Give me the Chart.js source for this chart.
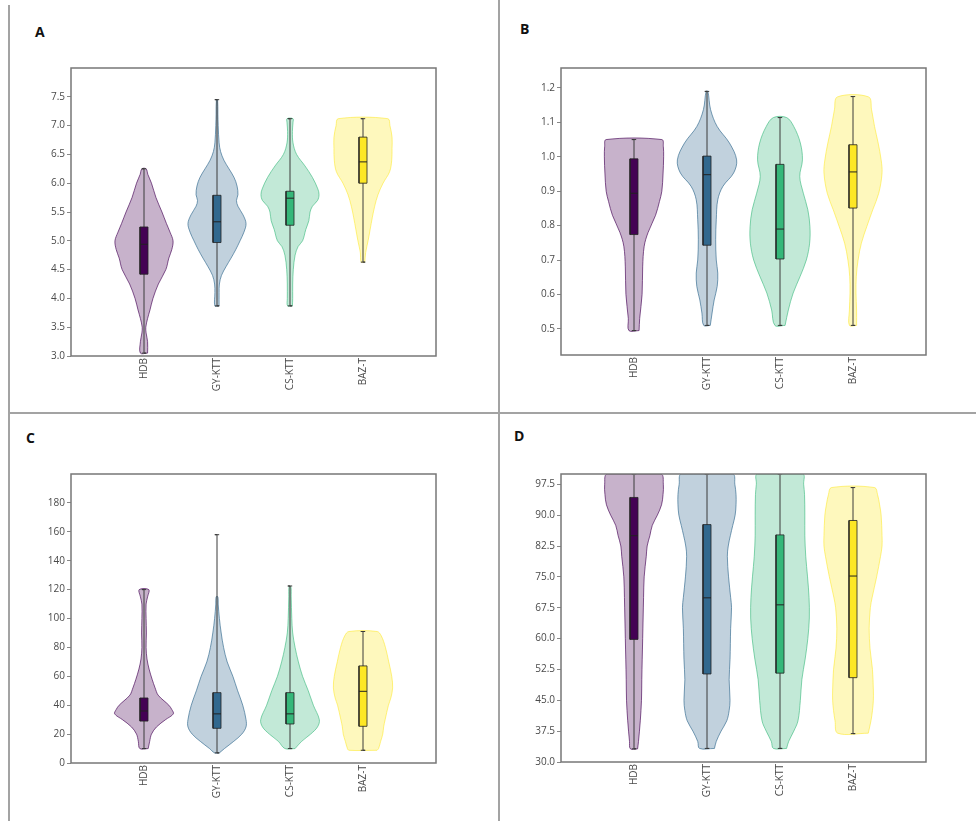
<!DOCTYPE html>
<html><head><meta charset="utf-8">
<script src="https://cdn.jsdelivr.net/npm/chart.js@4.4.1/dist/chart.umd.min.js"></script>
<style>
html,body{margin:0;padding:0;background:#fff;}
body{width:976px;height:821px;position:relative;overflow:hidden;font-family:'Open Sans',sans-serif;}
.cv{position:absolute;}
.line{position:absolute;background:#a3a3a3;}
.lab{position:absolute;font:bold 14px 'Open Sans',sans-serif;color:#111;line-height:18px;}
</style></head><body>
<div class="line" style="left:8px;top:5px;width:2px;height:816px"></div>
<div class="line" style="left:498px;top:0;width:2px;height:821px"></div>
<div class="line" style="left:9px;top:412px;width:967px;height:2px"></div>
<div class="lab" style="left:35px;top:23px">A</div>
<div class="lab" style="left:520px;top:20px">B</div>
<div class="lab" style="left:26px;top:429px">C</div>
<div class="lab" style="left:514px;top:427px">D</div>
<div class="cv" style="left:0;top:0;width:498px;height:412px"><canvas id="cA"></canvas></div>
<div class="cv" style="left:498px;top:0;width:478px;height:412px"><canvas id="cB"></canvas></div>
<div class="cv" style="left:0;top:412px;width:498px;height:409px"><canvas id="cC"></canvas></div>
<div class="cv" style="left:498px;top:412px;width:478px;height:409px"><canvas id="cD"></canvas></div>
<script>
// ---------------- DATA ----------------
const categories = ['HDB', 'GY-KTT', 'CS-KTT', 'BAZ-T'];

// Panel A
const A_ticks = [3.0, 3.5, 4.0, 4.5, 5.0, 5.5, 6.0, 6.5, 7.0, 7.5];
const A_min = [3.05, 3.87, 3.87, 4.63];
const A_q1  = [4.42, 4.97, 5.27, 6.00];
const A_med = [4.94, 5.33, 5.74, 6.37];
const A_q3  = [5.24, 5.79, 5.86, 6.80];
const A_max = [6.25, 7.45, 7.12, 7.12];
const A_violinY = [
  [3.05,3.25,3.4,3.5,3.65,3.8,4.0,4.25,4.5,4.7,4.85,5.0,5.15,5.3,5.5,5.75,6.0,6.15,6.25],
  [3.87,4.1,4.25,4.4,4.55,4.7,4.85,5.0,5.15,5.3,5.45,5.6,5.7,5.8,5.95,6.1,6.25,6.4,6.55,6.7,7.0,7.2,7.45],
  [3.87,4.0,4.25,4.5,4.75,4.9,5.0,5.2,5.35,5.5,5.6,5.7,5.8,5.9,6.1,6.3,6.5,6.7,6.9,7.05,7.12],
  [4.63,4.8,5.0,5.2,5.4,5.6,5.8,6.0,6.2,6.4,6.6,6.8,7.0,7.12]
];
const A_violinD = [
  [0.12,0.12,0.07,0.06,0.12,0.2,0.3,0.48,0.73,0.83,0.93,0.97,0.87,0.75,0.6,0.4,0.25,0.13,0.07],
  [0.07,0.07,0.08,0.15,0.3,0.47,0.63,0.77,0.9,0.97,0.87,0.7,0.65,0.7,0.67,0.57,0.4,0.23,0.12,0.07,0.04,0.03,0.02],
  [0.08,0.09,0.09,0.11,0.17,0.27,0.42,0.53,0.63,0.67,0.75,0.92,0.97,0.93,0.75,0.5,0.22,0.1,0.08,0.1,0.1],
  [0.06,0.09,0.17,0.24,0.31,0.39,0.5,0.67,0.89,0.96,0.97,0.97,0.9,0.83]
];

// Panel B
const B_ticks = [0.5, 0.6, 0.7, 0.8, 0.9, 1.0, 1.1, 1.2];
const B_min = [0.495, 0.51, 0.51, 0.51];
const B_q1  = [0.774, 0.743, 0.703, 0.851];
const B_med = [0.894, 0.948, 0.790, 0.956];
const B_q3  = [0.994, 1.002, 0.978, 1.035];
const B_max = [1.05, 1.19, 1.114, 1.175];
const B_violinY = [
  [0.495,0.53,0.6,0.68,0.74,0.78,0.83,0.87,0.9,0.95,1.0,1.03,1.05],
  [0.51,0.546,0.584,0.623,0.662,0.70,0.759,0.817,0.875,0.914,0.953,0.991,1.04,1.088,1.137,1.19],
  [0.51,0.555,0.604,0.652,0.70,0.749,0.797,0.846,0.894,0.943,0.991,1.04,1.088,1.114],
  [0.51,0.555,0.604,0.652,0.70,0.749,0.797,0.846,0.894,0.953,0.991,1.04,1.088,1.137,1.174]
];
const B_violinD = [
  [0.17,0.19,0.27,0.29,0.34,0.47,0.72,0.85,0.93,0.97,0.99,0.98,0.93],
  [0.11,0.17,0.24,0.34,0.36,0.31,0.29,0.31,0.36,0.53,0.89,0.99,0.75,0.34,0.12,0.03],
  [0.17,0.28,0.44,0.67,0.88,0.99,1.0,0.93,0.78,0.66,0.75,0.68,0.46,0.22],
  [0.12,0.12,0.1,0.11,0.17,0.28,0.46,0.66,0.86,0.97,0.94,0.84,0.72,0.62,0.52]
];

// Panel C
const C_ticks = [0, 20, 40, 60, 80, 100, 120, 140, 160, 180];
const C_min = [10, 7, 10, 8.8];
const C_q1  = [29, 24, 27, 25.4];
const C_med = [36, 34, 34, 49.6];
const C_q3  = [45, 48.7, 48.7, 67.2];
const C_max = [120, 158, 122.5, 91];
const C_violinY = [
  [10,15,20,25,30,34,37,40,43,47,52,58,65,72,80,90,100,110,115,120],
  [7,10,15,20,25,30,40,50,60,70,80,90,100,110,115],
  [10,15,20,25,30,40,50,60,70,80,90,100,115,122],
  [8.8,10,15,20,25,30,40,45,52,60,70,80,88,91]
];
const C_violinD = [
  [0.14,0.19,0.25,0.42,0.72,0.98,0.93,0.83,0.67,0.47,0.37,0.27,0.17,0.1,0.07,0.08,0.07,0.07,0.12,0.16],
  [0.08,0.25,0.56,0.83,0.97,0.97,0.86,0.69,0.53,0.34,0.22,0.14,0.08,0.04,0.03],
  [0.17,0.39,0.69,0.92,0.98,0.78,0.61,0.42,0.28,0.17,0.09,0.06,0.04,0.03],
  [0.47,0.52,0.59,0.66,0.69,0.74,0.85,0.93,0.99,0.96,0.86,0.75,0.61,0.47]
];

// Panel D
const D_ticks = [30.0, 37.5, 45.0, 52.5, 60.0, 67.5, 75.0, 82.5, 90.0, 97.5];
const D_min = [33.2, 33.3, 33.3, 36.9];
const D_q1  = [59.8, 51.4, 51.6, 50.5];
const D_med = [85.0, 69.9, 68.2, 75.2];
const D_q3  = [94.3, 87.7, 85.2, 88.7];
const D_max = [100, 100, 100, 96.7];
const D_violinY = [
  [33.2,35,40,45,50,60,70,75,80,82.5,85,87.5,90,92.5,95,97.5,100],
  [33.3,35,37.5,40,42.5,45,50,55,62.5,67.5,70,75,80,82.5,85,87.5,90,92.5,95,97.5,100],
  [33.3,35,37.5,40,45,50,55,60,65,70,75,80,85,90,95,97.5,100],
  [37,40,42.5,45,47.5,52.5,57.5,62.5,67.5,70,75,80,82.5,85,90,92.5,95,96.7]
];
const D_violinD = [
  [0.12,0.15,0.21,0.25,0.26,0.29,0.32,0.34,0.41,0.44,0.53,0.61,0.78,0.92,0.97,0.98,0.9],
  [0.25,0.31,0.47,0.66,0.74,0.77,0.74,0.77,0.79,0.82,0.79,0.72,0.68,0.71,0.78,0.86,0.94,0.97,0.97,0.93,0.86],
  [0.22,0.29,0.46,0.6,0.68,0.73,0.84,0.93,0.98,0.97,0.92,0.86,0.83,0.83,0.82,0.79,0.76],
  [0.51,0.6,0.65,0.68,0.68,0.65,0.57,0.54,0.58,0.64,0.79,0.92,0.97,0.97,0.94,0.89,0.82,0.72]
];

// ---------------- STYLE ----------------
const baseRGB = [[68,1,84],[49,104,142],[53,183,121],[253,231,37]];
const strokeAlpha = [0.65, 0.65, 0.6, 0.55];
const HALF_MAX = 0.41;   // max violin half width (category units)
const BOX_HALF = 0.055;
const CAP_HALF = 0.03;
const FONT = {family: "'Open Sans', sans-serif", size: 10};

function rgba(c, a) { return 'rgba(' + c[0] + ',' + c[1] + ',' + c[2] + ',' + a + ')'; }

function violinPts(c, ys, ds) {
  const right = ys.map((y, i) => ({x: c + ds[i] * HALF_MAX, y: y}));
  const left = ys.map((y, i) => ({x: c - ds[i] * HALF_MAX, y: y})).reverse();
  return right.concat(left, [right[0]]);
}

function buildDatasets(p) {
  const ds = [];
  categories.forEach((name, i) => {
    const c = i;
    const col = baseRGB[i];
    ds.push({
      data: violinPts(c, p.vy[i], p.vd[i]),
      fill: 'shape', backgroundColor: rgba(col, 0.3), borderColor: rgba(col, strokeAlpha[i]),
      borderWidth: 1, tension: 0.35, pointRadius: 0, order: 4
    });
    ds.push({
      data: [{x: c - CAP_HALF, y: p.min[i]}, {x: c + CAP_HALF, y: p.min[i]}, {x: c, y: p.min[i]},
             {x: c, y: p.max[i]}, {x: c - CAP_HALF, y: p.max[i]}, {x: c + CAP_HALF, y: p.max[i]}],
      fill: false, borderColor: '#3a3a3a', borderWidth: 1, tension: 0, pointRadius: 0, order: 3
    });
    ds.push({
      data: [{x: c - BOX_HALF, y: p.q1[i]}, {x: c + BOX_HALF, y: p.q1[i]}, {x: c + BOX_HALF, y: p.q3[i]},
             {x: c - BOX_HALF, y: p.q3[i]}, {x: c - BOX_HALF, y: p.q1[i]}],
      fill: 'shape', backgroundColor: rgba(col, 1), borderColor: 'rgba(35,35,35,0.8)',
      borderWidth: 1, tension: 0, pointRadius: 0, order: 2
    });
    ds.push({
      data: [{x: c - BOX_HALF, y: p.med[i]}, {x: c + BOX_HALF, y: p.med[i]}],
      fill: false, borderColor: '#222', borderWidth: 1, tension: 0, pointRadius: 0, order: 1
    });
  });
  return ds;
}

const framePlugin = {
  id: 'frame',
  afterDatasetsDraw(chart) {
    const {ctx, chartArea: a} = chart;
    ctx.save();
    ctx.strokeStyle = '#777';
    ctx.lineWidth = 1.5;
    ctx.strokeRect(a.left, a.top, a.right - a.left, a.bottom - a.top);
    ctx.restore();
  }
};

function makeChart(id, p) {
  new Chart(document.getElementById(id), {
    type: 'line',
    data: {datasets: buildDatasets(p)},
    plugins: [framePlugin],
    options: {
      responsive: true, maintainAspectRatio: false, animation: false, events: [],
      layout: {padding: {left: 0, right: p.padR, top: p.padT, bottom: p.padB}},
      plugins: {legend: {display: false}, tooltip: {enabled: false}},
      scales: {
        x: {
          type: 'linear', min: -1, max: 4,
          afterBuildTicks: s => { s.ticks = categories.map((n, i) => ({value: i})); },
          afterFit: s => { s.height = 40; },
          ticks: {callback: v => categories[v], minRotation: 90, maxRotation: 90, autoSkip: false,
                  padding: 2, font: FONT, color: '#4a4a4a'},
          grid: {display: false, drawTicks: false},
          border: {display: false}
        },
        y: {
          type: 'linear', min: p.ymin, max: p.ymax,
          afterBuildTicks: s => { s.ticks = p.ticks.map(v => ({value: v})); },
          afterFit: s => { s.width = p.axisW; },
          ticks: {callback: v => p.fmt(v), padding: 2, font: FONT, color: '#4a4a4a'},
          grid: {drawOnChartArea: false, drawTicks: true, tickLength: 4, color: '#888'},
          border: {display: false}
        }
      }
    }
  });
}

makeChart('cA', {vy: A_violinY, vd: A_violinD, min: A_min, q1: A_q1, med: A_med, q3: A_q3, max: A_max,
  ticks: A_ticks, ymin: 3, ymax: 8, fmt: v => v.toFixed(1), axisW: 71, padR: 62, padT: 68, padB: 16});
makeChart('cB', {vy: B_violinY, vd: B_violinD, min: B_min, q1: B_q1, med: B_med, q3: B_q3, max: B_max,
  ticks: B_ticks, ymin: 0.424, ymax: 1.258, fmt: v => v.toFixed(1), axisW: 63, padR: 50, padT: 68, padB: 17});
makeChart('cC', {vy: C_violinY, vd: C_violinD, min: C_min, q1: C_q1, med: C_med, q3: C_q3, max: C_max,
  ticks: C_ticks, ymin: 0, ymax: 200, fmt: v => String(Math.round(v)), axisW: 71, padR: 62, padT: 62, padB: 18});
makeChart('cD', {vy: D_violinY, vd: D_violinD, min: D_min, q1: D_q1, med: D_med, q3: D_q3, max: D_max,
  ticks: D_ticks, ymin: 30, ymax: 100, fmt: v => v.toFixed(1), axisW: 63, padR: 50, padT: 62, padB: 19});
</script>
</body></html>
